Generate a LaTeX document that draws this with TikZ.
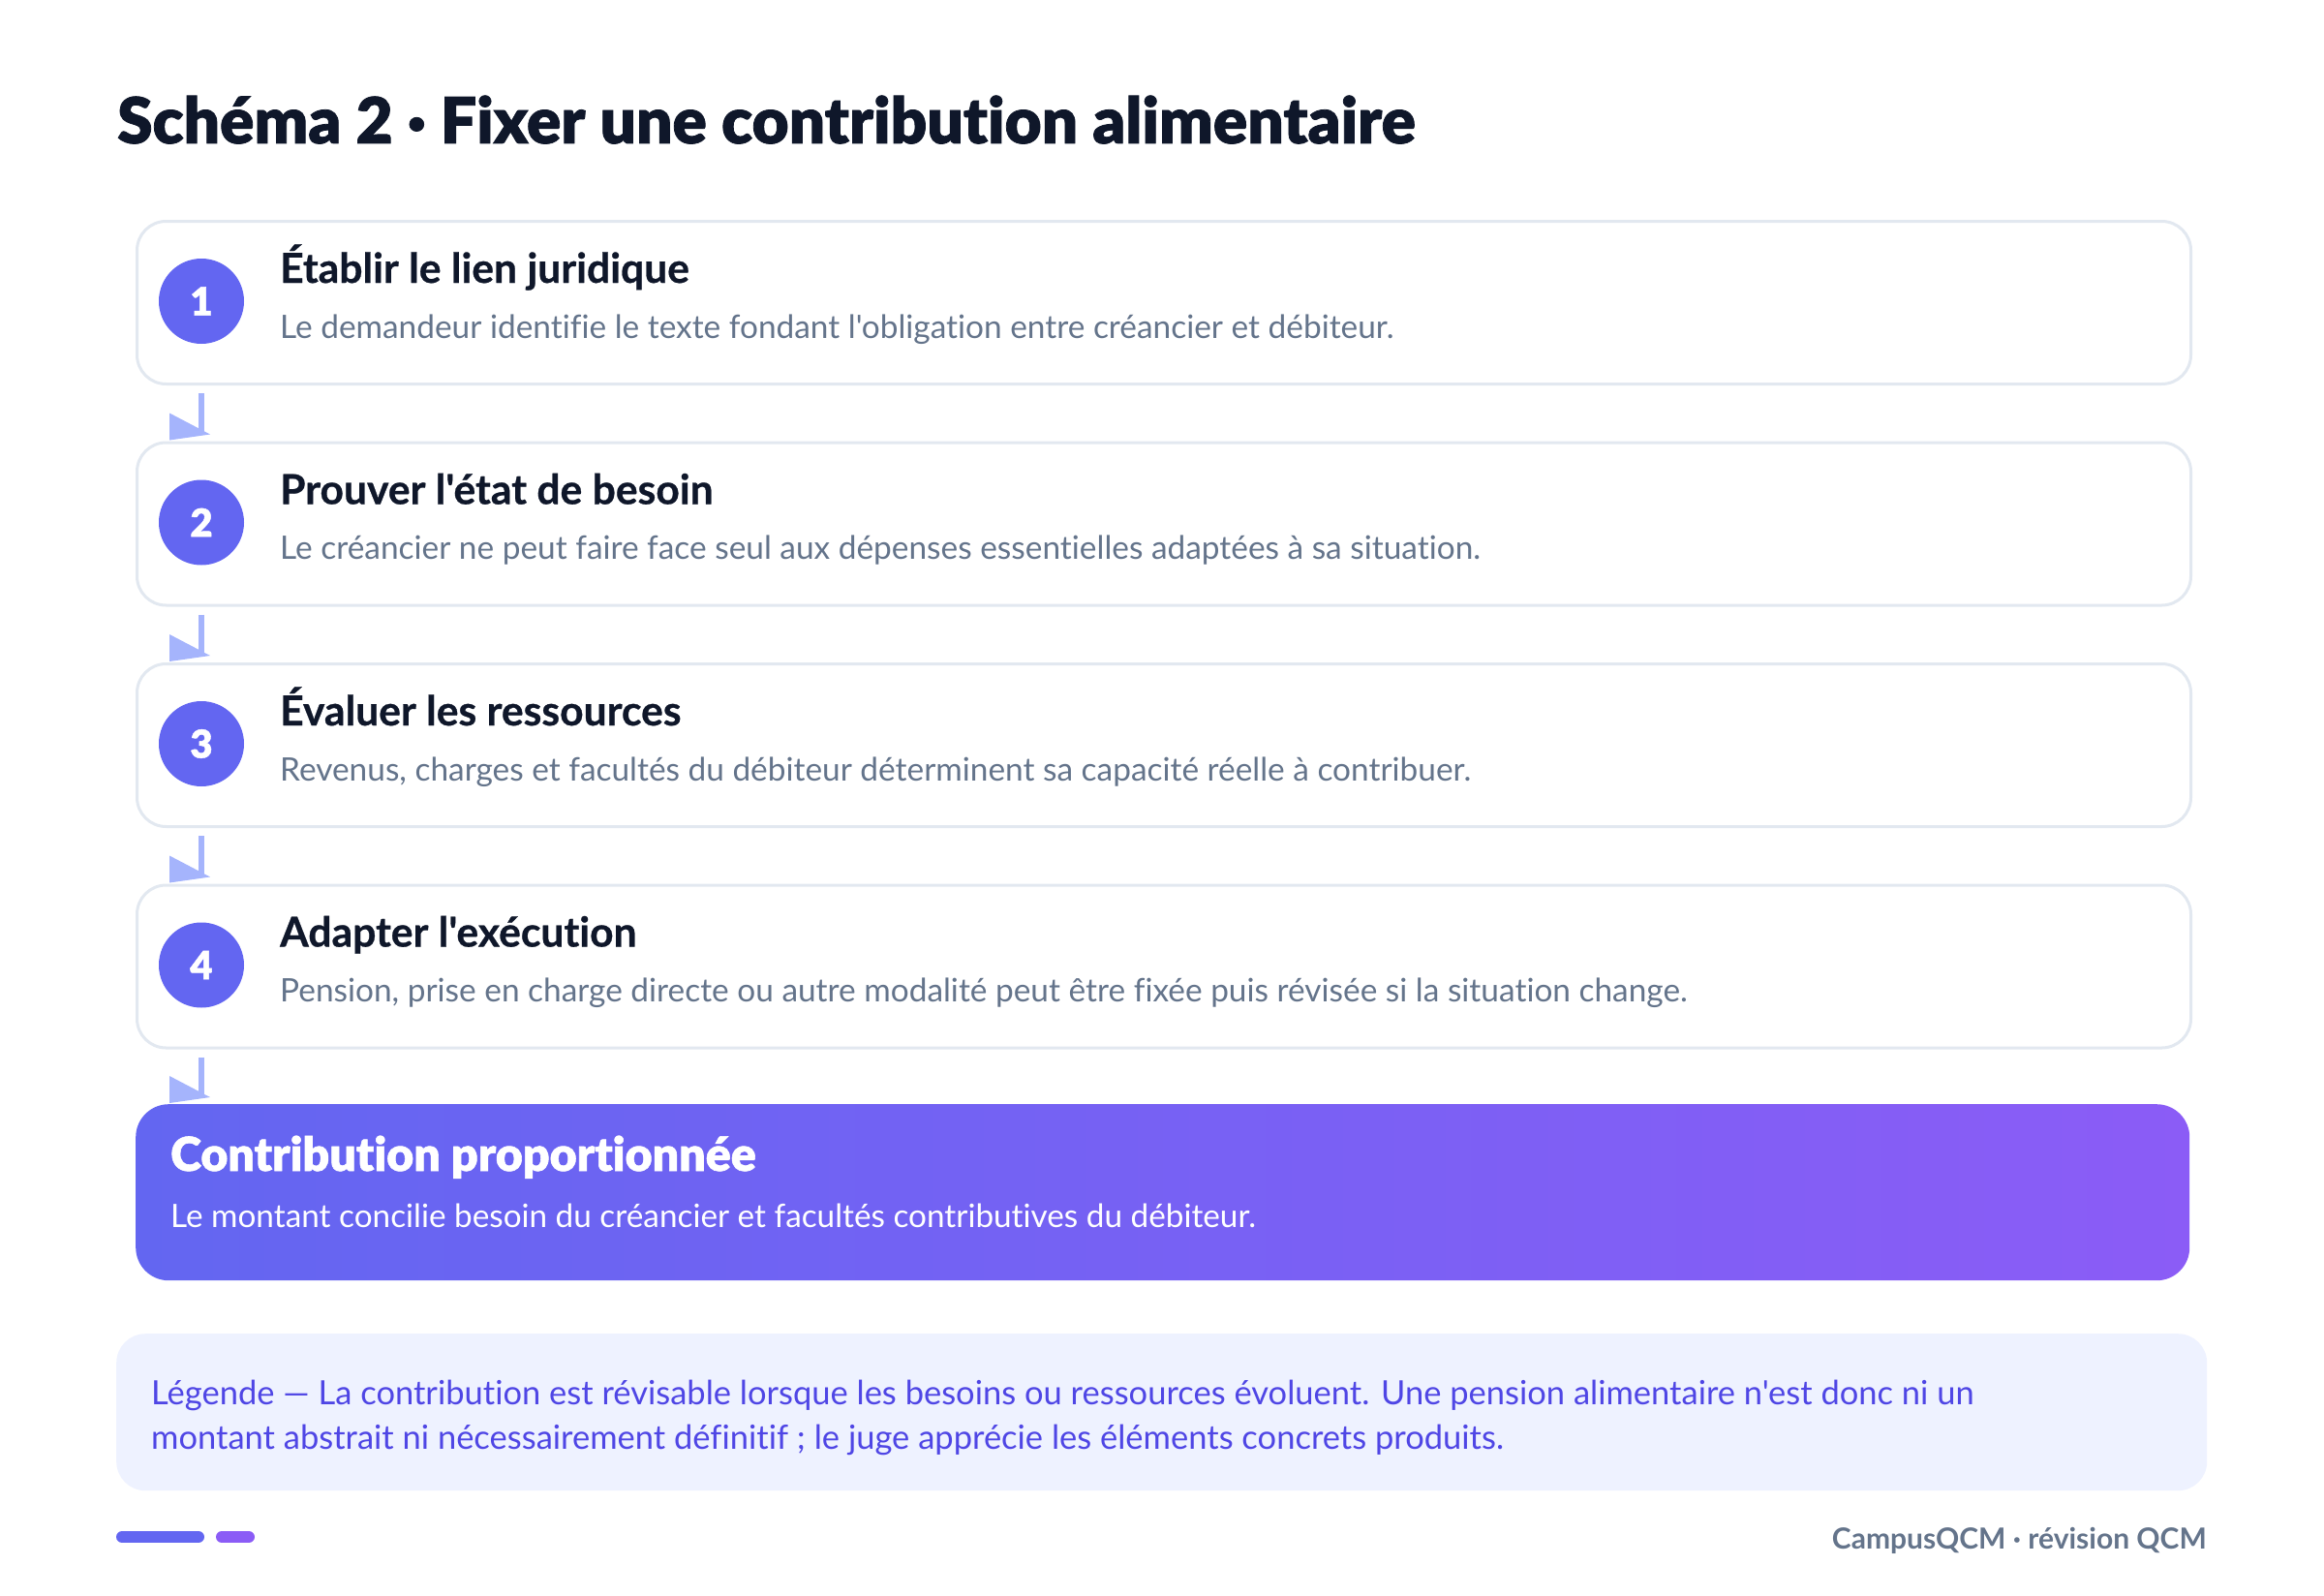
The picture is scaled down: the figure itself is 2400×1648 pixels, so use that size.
\documentclass[tikz,border=0pt]{standalone}
\usepackage{fontspec}
\setmainfont{Lato}[Ligatures={TeXOff,NoCommon}]
\newfontfamily\heavyfont{Lato Black}[Ligatures={TeXOff,NoCommon}, FakeBold=1.2]
\newfontfamily\headfont{Lato Bold}[Ligatures={TeXOff,NoCommon}, FakeBold=0.6]
\usetikzlibrary{positioning}

\definecolor{ink}{HTML}{0F172A}
\definecolor{note}{HTML}{64748B}
\definecolor{cardline}{HTML}{E2E8F0}
\definecolor{badgecol}{HTML}{6366F1}
\definecolor{violet}{HTML}{8B5CF6}
\definecolor{linkcol}{HTML}{A5B4FC}
\definecolor{legendfill}{HTML}{EEF2FF}
\definecolor{legendtext}{HTML}{4F46E5}

\tikzset{
  card/.style={draw=cardline, line width=3pt, fill=white, rounded corners=30pt,
    minimum width=2121pt, minimum height=168pt, anchor=north west, inner sep=0pt},
  badge/.style={circle, fill=badgecol, minimum size=88pt, inner sep=0pt,
    text=white, font=\heavyfont\fontsize{40}{40}\selectfont},
  steptitle/.style={anchor=base west, inner sep=0pt, text=ink,
    font=\headfont\fontsize{42.6}{46}\selectfont},
  stepnote/.style={anchor=base west, inner sep=0pt, text=note,
    font=\fontsize{33.4}{38}\selectfont},
  link/.style={draw=linkcol, line width=6pt},
}

\begin{document}
\begin{tikzpicture}[x=1pt, y=-1pt]
\useasboundingbox (0, 0) rectangle (2400, 1648);
\node at (121, 148) [name=title, anchor=base west, inner sep=0pt, text=ink,
  font=\heavyfont\fontsize{65.7}{70}\selectfont] {Schéma 2 · Fixer une contribution alimentaire};
% the four steps
\foreach \i/\head/\body in {
  1/{Établir le lien juridique}/{Le demandeur identifie le texte fondant l'obligation entre créancier et débiteur.},
  2/{Prouver l'état de besoin}/{Le créancier ne peut faire face seul aux dépenses essentielles adaptées à sa situation.},
  3/{Évaluer les ressources}/{Revenus, charges et facultés du débiteur déterminent sa capacité réelle à contribuer.},
  4/{Adapter l'exécution}/{Pension, prise en charge directe ou autre modalité peut être fixée puis révisée si la situation change.}}
{
  \node at (140, {227+228.5*(\i-1)}) [name=step\i, card] {};
  \node at ([xshift=68pt, yshift=-84pt]step\i.north west) [name=num\i, badge] {\i};
  \node at ([xshift=149pt, yshift=-65pt]step\i.north west) [name=head\i, steptitle] {\head};
  \node at ([xshift=149pt, yshift=-122pt]step\i.north west) [name=body\i, stepnote] {\body};
}
\node at (140, 1140) [name=result, anchor=north west, inner sep=0pt, rounded corners=34pt,
  minimum width=2121pt, minimum height=182pt, left color=badgecol, right color=violet] {};
\node at ([xshift=36pt, yshift=-69pt]result.north west) [name=resulthead, anchor=base west,
  inner sep=0pt, text=white, font=\heavyfont\fontsize{48.3}{52}\selectfont] {Contribution proportionnée};
\node at ([xshift=36pt, yshift=-127pt]result.north west) [name=resultbody, anchor=base west,
  inner sep=0pt, text=white, font=\fontsize{33.3}{38}\selectfont]
  {Le montant concilie besoin du créancier et facultés contributives du débiteur.};
% links between the boxes
\foreach \a/\b in {step1/step2, step2/step3, step3/step4, step4/result} {
  \draw [link] ([xshift=68pt, yshift=-8pt]\a.south west) -- ([xshift=68pt, yshift=8pt]\b.north west);
  \fill [linkcol] ([xshift=35pt, yshift=29pt]\b.north west) -- ([xshift=77pt, yshift=7pt]\b.north west)
    -- ([xshift=35pt, yshift=1pt]\b.north west) -- cycle;
}
% legend
\node at (120, 1377) [name=legend, anchor=north west, inner sep=0pt, fill=legendfill,
  rounded corners=30pt, minimum width=2159pt, minimum height=162pt] {};
\node at ([xshift=36pt, yshift=-119pt]legend.north west) [name=legendtext, anchor=base west,
  inner sep=0pt, align=left, text=legendtext, font=\fontsize{34.5}{46}\selectfont]
  {Légende — La contribution est révisable lorsque les besoins ou ressources évoluent. Une pension alimentaire n'est donc ni un\\
   montant abstrait ni nécessairement définitif ; le juge apprécie les éléments concrets produits.};
% footer
\draw [line width=12pt, line cap=round, badgecol] (126, 1587) -- (205, 1587);
\draw [line width=12pt, line cap=round, violet] (229, 1587) -- (257, 1587);
\node at (2279, 1599) [name=brand, anchor=base east, inner sep=0pt, text=note,
  font=\fontsize{30}{34}\selectfont\bfseries] {CampusQCM · révision QCM};
\end{tikzpicture}
\end{document}
